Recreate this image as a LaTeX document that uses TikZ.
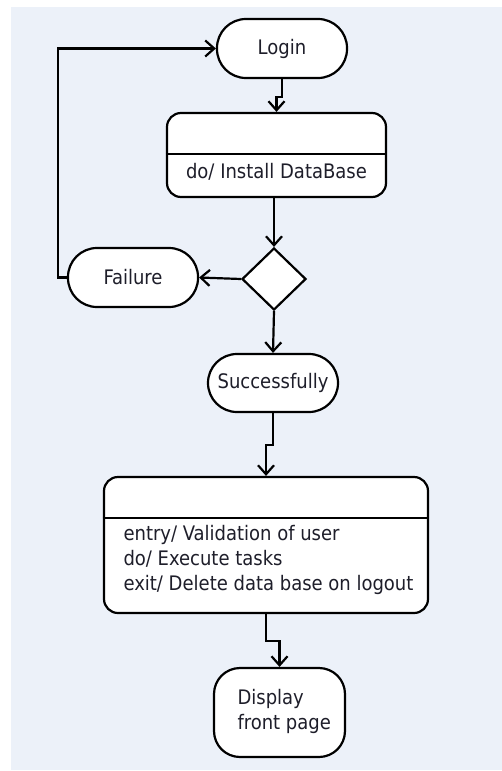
\documentclass[tikz,border=0pt]{standalone}
\usepackage{fontspec}
\setmainfont{DejaVu Sans Condensed}
\usetikzlibrary{arrows.meta,shapes.geometric,calc}
\definecolor{bgc}{HTML}{ECF1F9}
\definecolor{txt}{HTML}{1E1E2A}
\begin{document}
\begin{tikzpicture}[x=1pt,y=-1pt,
  every node/.style={font=\fontsize{20}{25}\selectfont, text=txt},
  stadium/.style={draw=black, fill=white, line width=2.2pt, rounded corners=29pt, minimum width=130pt, minimum height=59pt, inner sep=0pt},
  statebox/.style={draw=black, fill=white, line width=2.2pt, rounded corners=14pt, inner sep=0pt},
  dec/.style={draw=black, fill=white, line width=2.2pt, diamond, minimum width=64pt, minimum height=62pt, inner sep=0pt},
  arr/.style={draw=black, line width=2.2pt, -{Straight Barb[length=9pt,width=16pt,line width=2.2pt]}},
  divider/.style={draw=black, line width=2.2pt}]
\useasboundingbox (0,0) rectangle (502,771);
\fill[bgc] (11,7) rectangle (502,770);
% nodes
\node[stadium] (login) at (282,48.5) {Login};
\node[statebox, minimum width=219pt, minimum height=84pt] (box1) at (276.5,155) {};
\node (t1) at (276.5,172) {do/ Install DataBase};
\node[dec] (dia) at (274,279) {};
\node[stadium] (fail) at (133,277.5) {Failure};
\node[stadium, minimum height=58pt] (succ) at (273,383) {Successfully};
\node[statebox, minimum width=324pt, minimum height=136pt] (box2) at (266,545) {};
\node[anchor=west, align=left] (t2) at (120,560) {entry/ Validation of user\\do/ Execute tasks\\exit/ Delete data base on logout};
\node[draw=black, fill=white, line width=2.2pt, rounded corners=26pt, minimum width=131pt, minimum height=89pt, inner sep=0pt] (disp) at (279.5,712.5) {};
\node[align=left, anchor=west] (t3) at (234,711) {Display\\front page};
% dividers
\draw[divider] ($(box1.north west)+(0,42)$) -- ($(box1.north east)+(0,42)$);
\draw[divider] ($(box2.north west)+(0,42)$) -- ($(box2.north east)+(0,42)$);
% connectors
\draw[arr] (login.south) -- ++(0,18) -| (box1.north);
\draw[arr] (box1.south -| dia.north) -- (dia.north);
\draw[arr] (dia.west) -- (fail.east);
\draw[arr] (fail.west) -- ++(-9,0) |- (login.west);
\draw[arr] (dia.south) -- (succ.north);
\draw[arr] (succ.south) -- ++(0,32) -| (box2.north);
\draw[arr] (box2.south) -- ++(0,27) -| (disp.north);
\end{tikzpicture}
\end{document}
